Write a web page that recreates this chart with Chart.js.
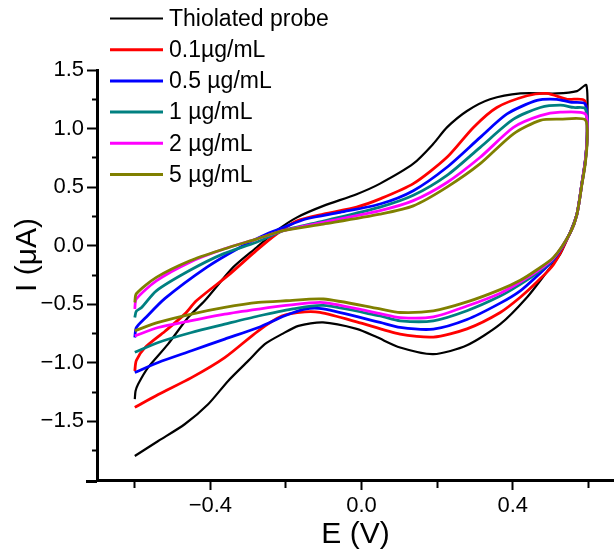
<!DOCTYPE html>
<html><head><meta charset="utf-8">
<script src="https://cdn.jsdelivr.net/npm/chart.js@4/dist/chart.umd.min.js"></script>
<style>html,body{margin:0;padding:0;background:#fff;}#wrap{width:614px;height:555px;}</style>
</head><body><div id="wrap"><canvas id="c" width="614" height="555"></canvas></div>
<script>
// ---- data (E in V, I in µA) ----
const seriesNames = ['Thiolated probe', '0.1µg/mL', '0.5 µg/mL', '1 µg/mL', '2 µg/mL', '5 µg/mL'];
const seriesColors = ['#000000', '#ff0000', '#0000ff', '#008080', '#ff00ff', '#808000'];

const probeE = [-0.600,-0.598,-0.591,-0.565,-0.512,-0.459,-0.415,-0.340,-0.278,-0.225,-0.172,-0.101,-0.013,0.049,0.137,0.190,0.226,0.279,0.340,0.420,0.517,0.570,0.595,0.597,0.592,0.583,0.570,0.552,0.526,0.490,0.438,0.367,0.279,0.190,0.102,0.040,-0.013,-0.102,-0.167,-0.211,-0.256,-0.300,-0.353,-0.406,-0.468,-0.538,-0.600];
const probeI = [-1.31,-1.24,-1.18,-1.04,-0.84,-0.613,-0.47,-0.185,-0.015,0.128,0.24,0.34,0.44,0.53,0.70,0.87,1.01,1.15,1.25,1.30,1.30,1.32,1.37,1.0,0.75,0.55,0.28,0.12,-0.07,-0.225,-0.44,-0.67,-0.85,-0.926,-0.869,-0.78,-0.71,-0.655,-0.684,-0.755,-0.84,-0.983,-1.154,-1.353,-1.524,-1.667,-1.795];

const c01E = [-0.600,-0.596,-0.573,-0.520,-0.468,-0.437,-0.348,-0.278,-0.225,-0.172,-0.101,-0.013,0.049,0.137,0.226,0.296,0.358,0.438,0.490,0.544,0.590,0.597,0.592,0.583,0.570,0.552,0.508,0.464,0.420,0.367,0.279,0.190,0.102,-0.013,-0.110,-0.150,-0.211,-0.273,-0.362,-0.450,-0.538,-0.600];
const c01I = [-1.07,-0.98,-0.87,-0.73,-0.584,-0.47,-0.24,-0.04,0.10,0.21,0.27,0.33,0.40,0.53,0.755,1.01,1.18,1.28,1.30,1.25,1.24,0.95,0.72,0.53,0.27,0.11,-0.16,-0.31,-0.44,-0.57,-0.71,-0.78,-0.755,-0.65,-0.57,-0.565,-0.60,-0.726,-0.955,-1.126,-1.27,-1.38];

const c05E = [-0.600,-0.596,-0.573,-0.520,-0.410,-0.322,-0.251,-0.207,-0.145,-0.057,0.049,0.137,0.226,0.314,0.385,0.464,0.517,0.552,0.592,0.597,0.592,0.583,0.570,0.552,0.508,0.464,0.420,0.367,0.279,0.190,0.102,0.049,-0.101,-0.150,-0.203,-0.273,-0.362,-0.450,-0.538,-0.600];
const c05I = [-0.784,-0.70,-0.62,-0.45,-0.185,-0.015,0.10,0.156,0.23,0.285,0.356,0.47,0.67,0.925,1.125,1.24,1.25,1.225,1.21,0.95,0.72,0.53,0.27,0.11,-0.12,-0.26,-0.385,-0.49,-0.63,-0.712,-0.698,-0.655,-0.54,-0.541,-0.598,-0.698,-0.797,-0.897,-0.997,-1.083];

const c1E = [-0.600,-0.596,-0.582,-0.543,-0.454,-0.366,-0.278,-0.207,-0.101,0.049,0.137,0.226,0.314,0.402,0.473,0.526,0.561,0.592,0.597,0.592,0.583,0.570,0.552,0.508,0.464,0.420,0.367,0.279,0.190,0.102,0.049,-0.101,-0.185,-0.273,-0.362,-0.450,-0.538,-0.600];
const c1I = [-0.613,-0.56,-0.527,-0.385,-0.21,-0.07,0.03,0.128,0.21,0.33,0.43,0.60,0.84,1.08,1.18,1.20,1.18,1.17,0.95,0.72,0.53,0.27,0.11,-0.11,-0.235,-0.33,-0.43,-0.555,-0.641,-0.641,-0.60,-0.51,-0.541,-0.60,-0.67,-0.741,-0.826,-0.91];

const c2E = [-0.600,-0.596,-0.543,-0.454,-0.366,-0.278,-0.207,-0.101,0.049,0.137,0.226,0.314,0.402,0.473,0.526,0.592,0.597,0.592,0.583,0.570,0.552,0.508,0.464,0.420,0.367,0.279,0.190,0.102,0.049,-0.101,-0.200,-0.273,-0.362,-0.450,-0.538,-0.600];
const c2I = [-0.54,-0.455,-0.30,-0.14,-0.03,0.057,0.128,0.20,0.30,0.385,0.54,0.755,1.01,1.11,1.14,1.125,0.95,0.72,0.53,0.27,0.11,-0.105,-0.22,-0.31,-0.405,-0.515,-0.607,-0.613,-0.58,-0.485,-0.51,-0.541,-0.584,-0.64,-0.698,-0.77];

const c5E = [-0.600,-0.596,-0.543,-0.454,-0.366,-0.278,-0.207,-0.101,0.049,0.137,0.226,0.314,0.402,0.473,0.526,0.592,0.597,0.592,0.583,0.570,0.552,0.508,0.464,0.420,0.367,0.279,0.190,0.102,0.049,-0.101,-0.200,-0.273,-0.362,-0.450,-0.538,-0.600];
const c5I = [-0.485,-0.41,-0.27,-0.128,-0.03,0.057,0.128,0.185,0.27,0.34,0.50,0.70,0.955,1.07,1.08,1.075,0.90,0.70,0.52,0.27,0.11,-0.10,-0.205,-0.295,-0.375,-0.48,-0.556,-0.57,-0.54,-0.455,-0.47,-0.484,-0.527,-0.584,-0.655,-0.726];

const xTickValues = [-0.6, -0.4, -0.2, 0.0, 0.2, 0.4, 0.6];
const xTickLabels = ['', '\u22120.4', '', '0.0', '', '0.4', ''];
const yTickValues = [-1.75, -1.5, -1.25, -1.0, -0.75, -0.5, -0.25, 0.0, 0.25, 0.5, 0.75, 1.0, 1.25, 1.5];
const yTickLabels = ['', '\u22121.5', '', '\u22121.0', '', '\u22120.5', '', '0.0', '', '0.5', '', '1.0', '', '1.5'];
const xTitle = 'E (V)';
const yTitle = 'I (\u03bcA)';

// ---- build ----
const allE = [probeE, c01E, c05E, c1E, c2E, c5E];
const allI = [probeI, c01I, c05I, c1I, c2I, c5I];
const FONT = "'Liberation Sans', Arial, sans-serif";

const datasets = seriesNames.map((name, k) => ({
  label: name,
  data: allE[k].map((e, j) => ({x: e, y: allI[k][j]})),
  showLine: true,
  borderColor: seriesColors[k],
  backgroundColor: seriesColors[k],
  borderWidth: k === 0 ? 2.2 : 2.8,
  pointRadius: 0,
  tension: 0.25,
  fill: false,
  order: 5 - k
}));

const decor = {
  id: 'decor',
  afterDraw(chart) {
    const ctx = chart.ctx;
    const ca = chart.chartArea;
    ctx.save();
    ctx.strokeStyle = '#000'; ctx.lineWidth = 3;
    ctx.beginPath(); ctx.moveTo(ca.left - 11, ca.bottom + 1.5); ctx.lineTo(ca.left, ca.bottom + 1.5); ctx.stroke();
    ctx.fillStyle = '#000';
    ctx.font = '30px ' + FONT;
    ctx.textAlign = 'center'; ctx.textBaseline = 'middle';
    ctx.translate(28, 255); ctx.rotate(-Math.PI / 2);
    ctx.fillText(yTitle, 0, 0);
    ctx.restore();
    ctx.save();
    ctx.font = '23px ' + FONT;
    ctx.textAlign = 'left'; ctx.textBaseline = 'middle';
    chart.data.datasets.forEach((ds, k) => {
      const y = 18.5 + k * 31.2;
      ctx.strokeStyle = ds.borderColor;
      ctx.lineWidth = k === 0 ? 2 : 3;
      ctx.beginPath(); ctx.moveTo(110, y); ctx.lineTo(163, y); ctx.stroke();
      ctx.fillStyle = '#000';
      ctx.fillText(ds.label, 169, y + 1);
    });
    ctx.restore();
  }
};

new Chart(document.getElementById('c'), {
  type: 'scatter',
  data: {datasets},
  plugins: [decor],
  options: {
    responsive: false,
    animation: false,
    layout: {padding: {top: 70, right: 0, left: 0, bottom: 0}},
    plugins: {legend: {display: false}, tooltip: {enabled: false}},
    scales: {
      x: {
        type: 'linear', position: 'bottom', min: -0.7, max: 0.668,
        afterBuildTicks: s => { s.ticks = xTickValues.map(v => ({value: v})); },
        afterFit: s => { s.height = 75; },
        ticks: {callback: (v, i) => xTickLabels[i], autoSkip: false, maxRotation: 0, color: '#000', padding: 3, font: {family: FONT, size: 22}},
        grid: {drawOnChartArea: false, drawTicks: true, tickLength: 10, tickWidth: 2, tickColor: '#000',
               tickBorderDash: c => (xTickLabels[c.index] === '' ? [6, 100] : [])},
        border: {display: true, color: '#000', width: 3},
        title: {display: true, text: xTitle, color: '#000', font: {family: FONT, size: 30}, padding: {top: 0, bottom: 2}}
      },
      y: {
        type: 'linear', position: 'left', min: -2.0, max: 1.5,
        afterBuildTicks: s => { s.ticks = yTickValues.map(v => ({value: v})); },
        afterFit: s => { s.width = 97; },
        ticks: {callback: (v, i) => yTickLabels[i], autoSkip: false, color: '#000', padding: 3, font: {family: FONT, size: 22}},
        grid: {drawOnChartArea: false, drawTicks: true, tickLength: 10, tickWidth: 2, tickColor: '#000',
               tickBorderDash: c => (yTickLabels[c.index] === '' ? [0, 5, 6, 100] : [])},
        border: {display: true, color: '#000', width: 3},
        title: {display: false}
      }
    }
  }
});
</script></body></html>
